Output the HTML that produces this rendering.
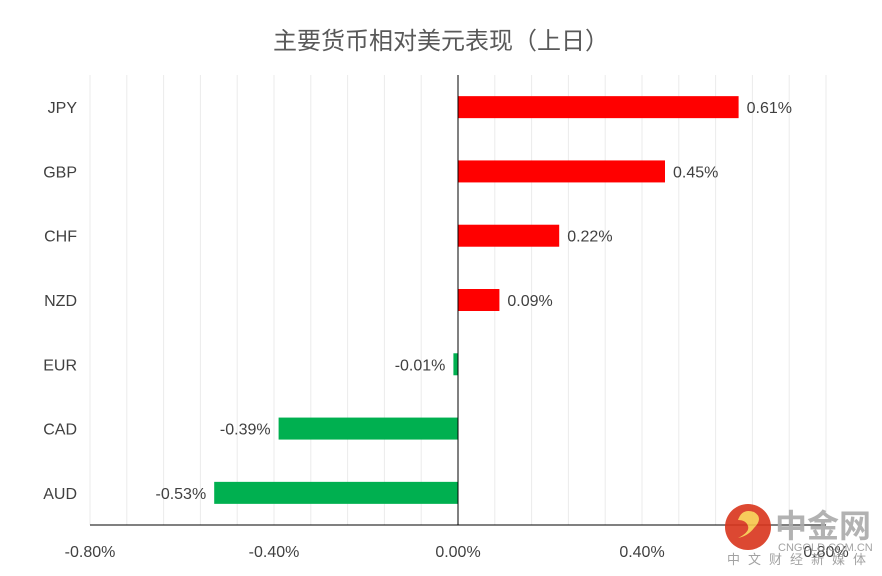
<!DOCTYPE html>
<html><head><meta charset="utf-8"><style>
body{margin:0;background:#fff;}
svg{display:block;font-family:"Liberation Sans","Noto Sans CJK SC",sans-serif;}
</style></head><body>
<svg id="chart" width="882" height="576">
<text x="441" y="49" text-anchor="middle" font-size="24" fill="#595959">主要货币相对美元表现（上日）</text>
<g id="grid"></g><g id="bars"></g><g id="labels"></g>
<line x1="90" y1="525" x2="826" y2="525" stroke="#000" stroke-width="1"/>
<line id="zero" y1="75" y2="525" stroke="#000" stroke-width="1"/>
<g id="xticks"></g>
<g opacity="0.9">
<circle cx="748" cy="527" r="23" fill="#d9351c"/>
<path d="M738 520 q4 -12 16 -8 q10 6 0 16 q-6 8 -16 10 q12 -6 10 -12 q-2 -6 -10 -6z" fill="#f7c64a"/>
<text x="775" y="537" font-size="32" font-weight="bold" fill="#aaa">中金网</text>
<text x="778" y="551" font-size="11" fill="#999">CNGOLD.COM.CN</text>
<text x="727" y="564" font-size="13" fill="#999" letter-spacing="8">中文财经新媒体</text>
</g>
</svg>
<script>
const categories=["JPY","GBP","CHF","NZD","EUR","CAD","AUD"];
const values=[0.61,0.45,0.22,0.09,-0.01,-0.39,-0.53];
const tickValues=[-0.8,-0.4,0,0.4,0.8];
const tickLabels=["-0.80%","-0.40%","0.00%","0.40%","0.80%"];
const NS="http://www.w3.org/2000/svg";
const x0=90,x1=826,yTop=75,yBot=525,vmin=-0.8,vmax=0.8;
function xs(v){return x0+(v-vmin)/(vmax-vmin)*(x1-x0);}
const band=(yBot-yTop)/categories.length;
function yc(i){return yTop+band*(i+0.5);}
function mk(tag,attrs,parent){const e=document.createElementNS(NS,tag);for(const k in attrs)e.setAttribute(k,attrs[k]);parent.appendChild(e);return e;}
const grid=document.getElementById('grid');
for(let k=0;k<=20;k++){const v=vmin+k*0.08;
const l=mk('line',{x1:xs(v),x2:xs(v),y1:yTop,y2:yBot,stroke:'#ebebeb','stroke-width':1},grid);

}
const z=document.getElementById('zero');z.setAttribute('x1',xs(0));z.setAttribute('x2',xs(0));
const bars=document.getElementById('bars'),labels=document.getElementById('labels');
categories.forEach((c,i)=>{const v=values[i];const y=yc(i);
const xa=Math.min(xs(0),xs(v)),w=Math.abs(xs(v)-xs(0));
const r=mk('rect',{x:xa,y:y-11,width:Math.max(w,1),height:22,fill:v>=0?'#ff0000':'#00b050'},bars);


const t=mk('text',{x:v>=0?xs(v)+8:xs(v)-8,y:y+6,'text-anchor':v>=0?'start':'end','font-size':16,fill:'#404040'},labels);
t.textContent=v.toFixed(2)+'%';


const cl=mk('text',{x:77,y:y+6,'text-anchor':'end','font-size':16,fill:'#404040'},labels);
cl.textContent=c;

});
const xt=document.getElementById('xticks');
tickValues.forEach((v,i)=>{const t=mk('text',{x:xs(v),y:557,'text-anchor':'middle','font-size':16,fill:'#404040'},xt);
t.textContent=tickLabels[i];

});
</script>
</body></html>
